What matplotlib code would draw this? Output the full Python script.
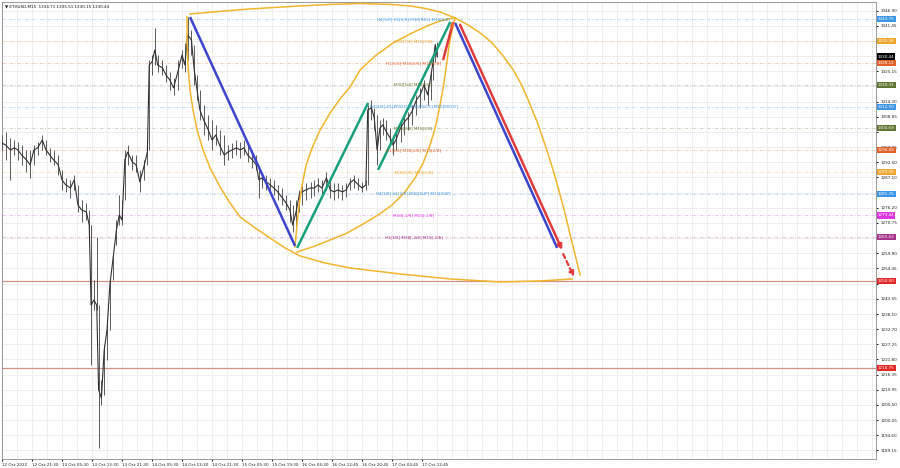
import matplotlib

matplotlib.use("Agg")
import matplotlib.pyplot as plt
from matplotlib.transforms import blended_transform_factory

plt.rcParams["font.family"] = ["DejaVu Sans"]

# ---- price data (M15 bars, sampled) -----------------------------------
TITLE = "\u25bc ETHUSD,M15  1334.71 1335.51 1330.15 1330.44"

bar_idx = [0, 4, 9, 13, 17, 21, 26, 30, 34, 38, 43, 47, 51, 55, 60, 64, 68, 73, 77, 81,
           85, 90, 93, 95, 98, 101, 103, 106, 109, 112, 115, 118, 122, 125, 128, 131,
           134, 139, 143, 147, 151, 155, 157, 160, 163, 166, 171, 175, 179, 183, 188,
           192, 195, 198, 202, 205, 208, 211, 215, 220, 224, 228, 232, 237, 241, 245,
           250, 254, 258, 262, 267, 271, 274, 277, 282, 286, 290, 294, 299, 303, 307,
           310, 314, 317, 320, 324, 329, 333, 337, 341, 346, 350, 354, 358, 363, 367,
           371, 375, 380, 384, 388, 390, 394, 397, 400, 403, 406, 410, 414, 417, 420,
           425, 429, 433, 437, 442, 446, 450, 454, 457, 460, 462, 464]
bar_high = [1302.3, 1303.4, 1301.2, 1300.5, 1299.8, 1298.7, 1296.9, 1296.9, 1298.7, 1299.8,
            1302.3, 1300.5, 1297.7, 1296.9, 1295.1, 1289.8, 1286.9, 1286.2, 1288.0, 1284.4,
            1279.0, 1277.9, 1275.4, 1270.0, 1250.3, 1265.7, 1241.3, 1214.4, 1227.0, 1236.0,
            1250.3, 1259.3, 1271.8, 1280.8, 1279.0, 1296.9, 1298.7, 1295.1, 1295.1, 1289.8,
            1293.4, 1297.7, 1329.2, 1331.0, 1340.7, 1331.0, 1329.2, 1327.4, 1324.9, 1322.8,
            1329.2, 1332.8, 1335.3, 1344.6, 1340.0, 1334.6, 1323.8, 1318.5, 1313.1, 1309.5,
            1307.7, 1305.9, 1304.1, 1302.3, 1298.7, 1299.4, 1300.5, 1299.8, 1300.5, 1298.7,
            1296.9, 1295.1, 1289.8, 1288.7, 1288.0, 1286.9, 1286.2, 1284.4, 1283.3, 1280.8,
            1279.0, 1277.2, 1279.0, 1282.6, 1284.4, 1285.1, 1285.5, 1286.2, 1286.9, 1286.2,
            1289.0, 1286.9, 1285.1, 1285.1, 1284.4, 1285.1, 1286.9, 1288.0, 1286.9, 1285.5,
            1286.2, 1313.1, 1314.9, 1312.0, 1309.5, 1307.7, 1308.4, 1307.7, 1304.8, 1302.3,
            1304.1, 1307.7, 1309.5, 1310.6, 1313.1, 1316.7, 1319.2, 1322.0, 1320.3, 1325.0,
            1331.0, 1335.0, 1335.5]
bar_low = [1296.9, 1293.4, 1286.2, 1295.1, 1293.4, 1291.6, 1289.0, 1286.9, 1291.6, 1295.1,
           1296.9, 1295.1, 1292.6, 1291.6, 1288.0, 1282.6, 1281.9, 1279.7, 1282.6, 1274.7,
           1271.1, 1271.8, 1268.2, 1219.8, 1239.5, 1239.5, 1190.0, 1205.5, 1209.1, 1221.6,
           1232.4, 1250.3, 1262.9, 1270.0, 1270.0, 1279.0, 1291.6, 1289.8, 1289.0, 1281.9,
           1286.2, 1291.6, 1296.9, 1323.8, 1327.4, 1324.9, 1323.8, 1321.3, 1318.5, 1316.7,
           1318.5, 1326.4, 1324.9, 1329.2, 1331.0, 1320.3, 1314.9, 1307.7, 1302.3, 1300.5,
           1296.9, 1298.7, 1295.1, 1291.6, 1293.4, 1294.1, 1295.1, 1294.1, 1295.1, 1292.6,
           1290.5, 1289.8, 1279.7, 1283.3, 1282.6, 1281.9, 1280.8, 1279.0, 1277.2, 1275.4,
           1271.1, 1267.5, 1268.2, 1274.7, 1277.2, 1279.0, 1279.7, 1280.4, 1281.9, 1280.8,
           1282.6, 1279.7, 1279.0, 1279.7, 1279.0, 1280.1, 1282.6, 1283.3, 1282.6, 1281.9,
           1282.6, 1284.4, 1307.7, 1304.1, 1291.6, 1296.9, 1302.3, 1300.5, 1298.7, 1295.1,
           1296.9, 1299.8, 1302.3, 1304.1, 1305.9, 1309.5, 1312.0, 1314.9, 1313.1, 1314.9,
           1322.0, 1328.5, 1330.15]
bar_close = [1299.4, 1298.7, 1296.9, 1297.7, 1296.9, 1295.1, 1293.4, 1291.6, 1296.9, 1297.7,
             1300.5, 1296.9, 1295.1, 1293.4, 1291.6, 1286.2, 1284.4, 1283.3, 1286.2, 1277.2,
             1275.4, 1274.7, 1270.0, 1241.3, 1243.1, 1241.3, 1210.9, 1208.0, 1225.2, 1232.4,
             1248.5, 1256.8, 1268.2, 1273.6, 1271.8, 1293.4, 1296.2, 1292.6, 1291.6, 1285.5,
             1290.5, 1296.2, 1327.4, 1328.5, 1332.8, 1327.4, 1326.4, 1323.8, 1322.0, 1319.2,
             1325.6, 1331.0, 1327.4, 1338.2, 1336.4, 1325.6, 1318.5, 1311.3, 1307.7, 1304.1,
             1300.5, 1302.3, 1298.7, 1295.1, 1296.2, 1296.9, 1297.7, 1296.9, 1297.7, 1295.1,
             1293.4, 1291.6, 1286.2, 1286.9, 1285.5, 1284.4, 1283.3, 1281.9, 1279.7, 1277.9,
             1275.4, 1270.0, 1275.4, 1280.8, 1281.9, 1282.6, 1283.3, 1283.3, 1284.4, 1283.3,
             1286.9, 1282.6, 1281.9, 1282.6, 1281.9, 1282.6, 1285.1, 1286.2, 1284.4, 1283.3,
             1284.4, 1311.3, 1312.0, 1308.4, 1296.9, 1304.8, 1305.9, 1303.4, 1301.2, 1298.7,
             1300.5, 1304.8, 1307.0, 1308.4, 1310.6, 1314.9, 1316.7, 1320.3, 1316.7, 1322.8,
             1329.2, 1334.7, 1330.44]

time_labels = ["12 Oct 2022", "12 Oct 21:30", "13 Oct 05:30", "13 Oct 13:30",
               "13 Oct 21:30", "14 Oct 05:30", "14 Oct 13:30", "14 Oct 21:30",
               "15 Oct 05:30", "15 Oct 19:30", "16 Oct 04:30", "16 Oct 12:45",
               "16 Oct 20:45", "17 Oct 04:45", "17 Oct 12:45"]
BARS_PER_LABEL = 32
BARS_VISIBLE = 932

price_ticks = [1346.90, 1341.45, 1336.00, 1330.55, 1325.15, 1319.70, 1314.30, 1308.85,
               1303.40, 1297.95, 1292.50, 1287.10, 1281.65, 1276.20, 1270.75, 1265.30,
               1259.90, 1254.45, 1249.00, 1243.55, 1238.10, 1232.70, 1227.25, 1221.80,
               1216.35, 1210.95, 1205.50, 1200.05, 1194.60, 1189.15]
hidden_ticks = [1336.00, 1330.55, 1319.70, 1303.40, 1281.65, 1265.30, 1249.00]

# Murrey math levels
levels = [1343.75, 1335.94, 1328.12, 1320.31, 1312.50, 1304.69,
          1296.88, 1289.06, 1281.25, 1273.44, 1265.62]
level_names = ["H4[5/8] H1[5/8] M30[RES] M15[8/8]", "M30[7/8] M15[7/8]",
               "H1[5/8] M30[6/8] M15[6/8]", "M30[5/8] M15[5/8]",
               "H4[4/8] H1[PIVOT] M30[PIVOT] M15[PIVOT]", "M30[3/8] M15[3/8]",
               "H1[3/8] M30[2/8] M15[2/8]", "M30[1/8] M15[1/8]",
               "H4[1/8] H1[2/8] M30[SUP] M15[SUP]", "M30[-1/8] M15[-1/8]",
               "H1[1/8] M30[-2/8] M15[-2/8]"]
level_colors = ["#3d95e6", "#eda52e", "#e2622a", "#637532", "#3d95e6", "#637532",
                "#e2622a", "#eda52e", "#3d95e6", "#e036e0", "#a8358a"]
LEVEL_LABEL_BAR = 439

key_levels = [1250.00, 1218.75]
last_price = 1330.44

# ---- drawing objects (bar, price) ------------------------------------
blue_1 = ([200.5, 312.5], [1344.6, 1262.5])
green_1 = ([314.7, 390.4], [1261.8, 1313.8])
green_2 = ([401.0, 478.0], [1289.8, 1342.8])
red_up = ([470.4, 481.0], [1329.2, 1342.8])
blue_2 = ([483.2, 592.0], [1342.5, 1261.8])
red_down = ([488.5, 597.3], [1341.8, 1261.1])
red_proj = ([598.4, 610.0], [1259.6, 1251.4])

arc_top = ([200.5, 232.5, 264.5, 317.9, 349.9, 381.9, 413.9, 435.2, 451.2, 467.2, 483.2],
           [1345.72, 1346.62, 1347.51, 1348.59, 1349.13, 1349.48, 1349.13, 1348.59,
            1347.69, 1346.44, 1344.28])
arc_right = ([483.2, 497.1, 509.9, 522.7, 534.4, 545.1, 553.6, 561.1, 570.7, 579.2,
              586.7, 593.1, 599.5, 605.9, 611.2, 616.5],
             [1344.28, 1341.77, 1338.90, 1335.32, 1330.65, 1325.63, 1320.61, 1314.87,
              1306.98, 1298.73, 1290.83, 1283.30, 1275.41, 1266.45, 1259.27, 1252.10])
arc_left = ([197.3, 197.3, 198.4, 200.5, 203.7, 208.0, 214.4, 221.9, 232.5, 243.2,
             253.9, 269.9, 285.9, 301.9, 317.9, 344.5, 371.2, 424.5, 477.9, 531.2,
             573.9, 608.0],
            [1344.64, 1336.39, 1326.71, 1318.46, 1311.28, 1304.11, 1296.94, 1290.48,
             1283.66, 1277.92, 1272.90, 1268.96, 1265.37, 1261.78, 1258.91, 1256.40,
             1254.61, 1252.46, 1250.67, 1249.59, 1249.95, 1250.67])
lens_upper = ([312.5, 313.6, 314.7, 316.8, 320.0, 324.3, 330.7, 339.2, 349.9, 360.5,
               371.2, 381.9, 397.9, 417.1, 435.2, 453.3, 467.2, 481.1],
              [1262.14, 1266.45, 1270.75, 1277.21, 1284.38, 1291.56, 1297.65, 1304.11,
               1310.21, 1315.23, 1319.53, 1325.63, 1330.65, 1335.32, 1338.54, 1341.41,
               1343.21, 1344.28])
lens_lower = ([314.7, 333.9, 349.9, 368.0, 385.1, 401.1, 416.0, 428.8, 440.5, 449.1,
               456.5, 461.9, 466.1, 470.4, 473.6, 476.8, 480.0, 483.2],
              [1260.35, 1262.50, 1264.65, 1267.16, 1270.39, 1273.62, 1277.21, 1281.51,
               1286.89, 1292.27, 1298.73, 1304.83, 1311.28, 1319.17, 1326.35, 1334.60,
               1339.98, 1344.28])

BLUE = "#3a45cc"
GREEN = "#15a07c"
RED = "#e03a3a"
ORANGE = "#f2b52c"
FS = 3.0


def main() -> None:
    fig = plt.figure(figsize=(9, 4.68), dpi=100)
    # chart area 2..876 px wide, 2..459 px tall (price scale sits to the right)
    ax = fig.add_axes([2 / 900, 9 / 468, 874 / 900, 457 / 468])
    ax.set_xlim(0, BARS_VISIBLE)
    ax.set_ylim(1186.1, 1350.0)
    ax.set_axisbelow(True)

    # -- axes & grid ---------------------------------------------------
    xt = [i * BARS_PER_LABEL for i in range(len(time_labels))]
    ax.set_xticks(xt)
    ax.set_xticklabels(time_labels, fontsize=FS, ha="left")
    ax.set_xticks(range(0, BARS_VISIBLE + 1, BARS_PER_LABEL // 2), minor=True)
    ax.tick_params(axis="x", which="major", length=1.5, pad=1.2, colors="#222222")
    ax.tick_params(axis="x", which="minor", length=0)

    ax.yaxis.tick_right()
    ax.set_yticks(price_ticks)
    ax.set_yticklabels(["" if v in hidden_ticks else f"{v:.2f}" for v in price_ticks],
                       fontsize=FS)
    ax.tick_params(axis="y", length=1.5, pad=1.5, colors="#222222")

    ax.grid(True, which="both", color="#ececec", lw=0.6)
    for s in ax.spines.values():
        s.set_color("#8a8a8a")
        s.set_linewidth(0.6)

    # -- murrey levels -------------------------------------------------
    for lv, name, c in zip(levels, level_names, level_colors):
        ax.axhline(lv, color=c, alpha=0.35, lw=0.6, ls=(0, (4, 2, 1, 2)), zorder=1)
        ax.text(LEVEL_LABEL_BAR, lv, name, color=c, fontsize=FS, ha="center",
                va="center", zorder=6)
    for lv in key_levels:
        ax.axhline(lv, color="#d49080", lw=0.9, zorder=1)

    # -- price bars ----------------------------------------------------
    ax.vlines(bar_idx, bar_low, bar_high, color="#5a5a5a", lw=0.7, zorder=3)
    ax.plot(bar_idx, bar_close, color="#303030", lw=0.8, zorder=3)

    # -- drawings ------------------------------------------------------
    for xs, ys in (arc_top, arc_right, arc_left, lens_upper, lens_lower):
        ax.plot(xs, ys, color=ORANGE, lw=1.1, zorder=4, solid_joinstyle="round")
    for (xs, ys), c in ((blue_1, BLUE), (blue_2, BLUE), (green_1, GREEN),
                        (green_2, GREEN), (red_up, RED)):
        ax.plot(xs, ys, color=c, lw=1.8, zorder=5, solid_capstyle="butt")

    # small orange head on the up move
    x0, x1 = red_up[0]
    y0, y1 = red_up[1]
    ax.annotate("", xy=(x1, y1), xytext=(x0 + 0.8 * (x1 - x0), y0 + 0.8 * (y1 - y0)),
                arrowprops=dict(arrowstyle="-|>", color="#f07028", lw=0.6,
                                mutation_scale=6, shrinkA=0, shrinkB=0), zorder=6)

    ax.annotate("", xy=(red_down[0][1], red_down[1][1]),
                xytext=(red_down[0][0], red_down[1][0]),
                arrowprops=dict(arrowstyle="-|>", color=RED, lw=1.8,
                                mutation_scale=7, shrinkA=0, shrinkB=0), zorder=5)
    ax.annotate("", xy=(red_proj[0][1], red_proj[1][1]),
                xytext=(red_proj[0][0], red_proj[1][0]),
                arrowprops=dict(arrowstyle="-|>", color=RED, lw=1.6, ls=(0, (2, 1.5)),
                                mutation_scale=7, shrinkA=0, shrinkB=0), zorder=5)

    # -- price boxes on the right scale -----------------------------------
    tr = blended_transform_factory(ax.transAxes, ax.transData)
    boxes = list(zip(levels, level_colors))
    boxes += [(lv, "#e32626") for lv in key_levels]
    boxes += [(last_price, "#000000")]
    for lv, c in boxes:
        ax.text(1.002, lv, f"{lv:.2f}", transform=tr, fontsize=FS, color="white",
                ha="left", va="center", clip_on=False,
                bbox=dict(boxstyle="square,pad=0.25", fc=c, ec="none"))

    ax.text(0.003, 0.995, TITLE, transform=ax.transAxes, fontsize=FS, va="top",
            ha="left", color="#111111")

    fig.savefig("out.png", dpi=100)
    plt.close(fig)


if __name__ == "__main__":
    main()
